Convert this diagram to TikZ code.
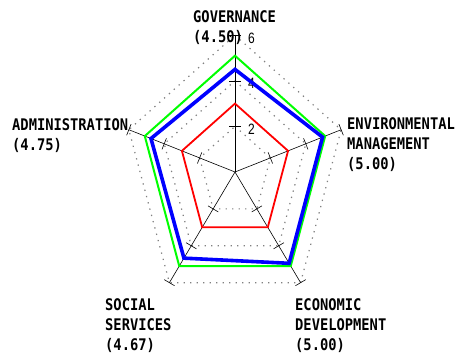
\documentclass[tikz,border=0pt]{standalone}
\usepackage{fontspec}
\newfontfamily\labelfont[FakeStretch=0.86]{DejaVu Sans Mono}
\newfontfamily\tickfont[FakeStretch=0.8]{Liberation Sans}
\usetikzlibrary{calc}

\tikzset{
	axisline/.style={black, line width=0.6pt},
	gridline/.style={black!50, line width=1.2pt, dash pattern=on 1.3pt off 5.2pt},
	catlabel/.style={font=\labelfont\bfseries\fontsize{16}{20}\selectfont,
		align=left, anchor=north west, inner sep=0pt},
	scalelabel/.style={font=\tickfont\fontsize{15}{15}\selectfont,
		anchor=west, inner sep=0pt},
	lowscore/.style={red, line width=1.8pt},
	highscore/.style={green, line width=2pt},
	cityscore/.style={blue, line width=3.6pt}
}

\begin{document}
\begin{tikzpicture}[x=18.6pt, y=22.8pt, line join=miter]
\useasboundingbox (-235pt,-182pt) rectangle (224pt,172pt);

\coordinate (O) at (0,0);

% dotted rings
\foreach \r in {2,4,6}
	\draw [gridline] (90:\r) -- (18:\r) -- (-54:\r) -- (-126:\r) -- (162:\r) -- cycle;

% axes with ticks
\foreach \a/\n in {90/gov, 18/env, -54/eco, -126/soc, 162/adm} {
	\coordinate (\n) at (\a:6);
	\draw [axisline] (O) -- (\n);
	\foreach \r in {2,4,6} {
		\coordinate (t) at (\a:\r);
		\draw [axisline] ($(t)!6pt!90:(O)$) -- ($(t)!6pt!-90:(O)$);
	}
}

\node [scalelabel] (s2) at ($(90:2)+(13pt,-3pt)$) {2};
\node [scalelabel] (s4) at ($(90:4)+(13pt,-3pt)$) {4};
\node [scalelabel] (s6) at ($(90:6)+(13pt,-3pt)$) {6};

% scores
\draw [lowscore] (90:3) -- (18:3) -- (-54:3) -- (-126:3) -- (162:3) -- cycle;
\draw [highscore] (90:5.1) -- (18:5.1) -- (-54:5.1) -- (-126:5.1) -- (162:5.1) -- cycle;
\draw [cityscore] (90:4.5) -- (18:4.95) -- (-54:4.95) -- (-126:4.67) -- (162:4.75) -- cycle;

% categories
\node [catlabel] (govlabel) at (-42pt,162pt) {GOVERNANCE\\(4.50)};
\node [catlabel] (admlabel) at (-223pt,54pt) {ADMINISTRATION\\(4.75)};
\node [catlabel] (envlabel) at (112pt,55pt) {ENVIRONMENTAL\\MANAGEMENT\\(5.00)};
\node [catlabel] (soclabel) at (-130pt,-126pt) {SOCIAL\\SERVICES\\(4.67)};
\node [catlabel] (ecolabel) at (60pt,-126pt) {ECONOMIC\\DEVELOPMENT\\(5.00)};
\end{tikzpicture}
\end{document}
